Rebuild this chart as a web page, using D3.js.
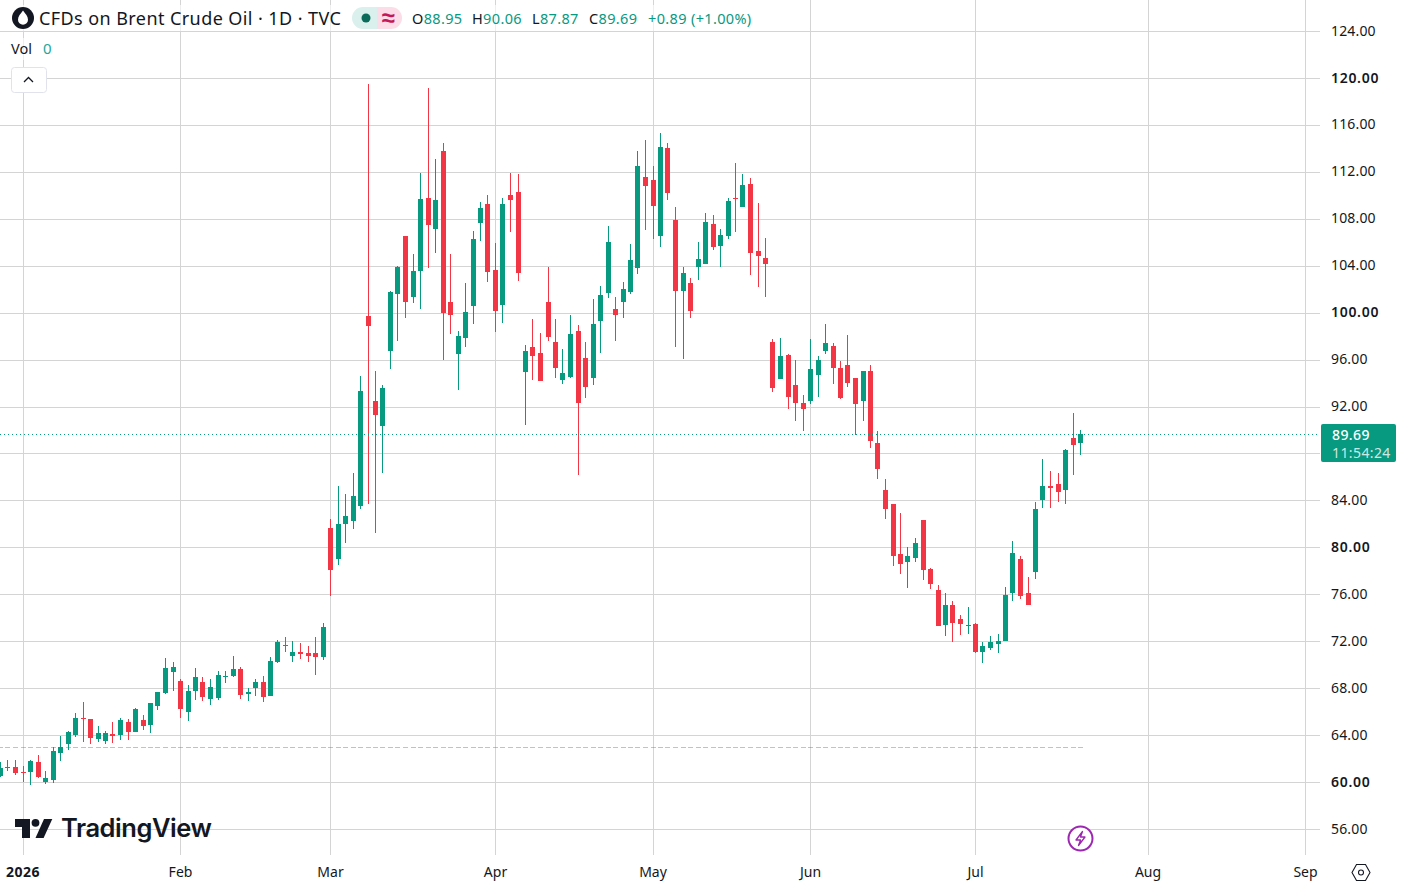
<!DOCTYPE html>
<html>

<head>
  <meta charset="utf-8">
  <script src="https://d3js.org/d3.v7.min.js"></script>
  <style>
    body { margin: 0; background: #fff; }
    text { font-family: "Noto Sans", sans-serif; fill: #131722; }
  </style>
</head>

<body>
  <svg id="chart" width="1402" height="887"></svg>
  <script>

    // daily bars, first bar is three sessions before the 2026 tick
    const firstBar = -3;

    const opens = [
      60.54, 61.25, 61.30, 60.88, 60.88, 61.73, 60.03, 60.20, 62.50, 63.26,
      64.03, 65.47, 65.39, 63.69, 63.52, 64.11, 64.03, 65.13, 64.28, 65.30,
      64.88, 66.50, 67.60, 69.39, 68.62, 65.99, 67.77, 68.54, 67.09, 67.18,
      68.96, 69.05, 69.65, 67.52, 68.03, 68.54, 67.35, 70.24, 71.69, 70.75,
      71.09, 71.00, 71.00, 70.67, 81.65, 79.01, 81.99, 82.24, 83.52, 99.77,
      92.54, 90.41, 96.79, 101.65, 106.58, 101.39, 103.60, 109.82, 107.18, 113.82,
      100.96, 96.54, 97.90, 100.62, 107.69, 109.30, 103.69, 100.71, 110.07, 110.33,
      95.01, 97.13, 96.62, 100.96, 97.56, 94.33, 94.58, 98.50, 96.20, 94.50,
      99.35, 101.73, 100.37, 100.96, 101.82, 103.86, 111.60, 111.35, 106.58, 114.07,
      107.94, 101.90, 102.58, 103.94, 104.20, 107.60, 105.73, 106.58, 109.82, 109.05,
      111.01, 105.30, 104.71, 97.56, 94.41, 96.45, 93.90, 92.37, 92.54, 94.75,
      96.79, 97.22, 95.35, 95.60, 94.50, 92.54, 95.09, 88.96, 84.96, 83.77,
      79.43, 78.75, 79.09, 82.33, 78.16, 76.37, 73.39, 75.09, 73.90, 73.33,
      73.48, 71.09, 71.43, 71.77, 72.03, 76.11, 79.01, 76.11, 77.90, 84.03,
      85.30, 85.39, 84.96, 89.39, 88.95
    ];

    const highs = [
      61.76, 61.90, 61.90, 61.39, 61.90, 62.33, 60.96, 63.00, 63.94, 64.37,
      65.90, 66.84, 65.39, 64.79, 64.37, 65.13, 65.47, 65.39, 66.33, 65.73,
      66.75, 67.69, 70.58, 70.24, 68.79, 68.28, 69.73, 68.96, 68.79, 69.48,
      69.48, 70.75, 69.82, 68.03, 68.79, 69.05, 70.67, 72.11, 72.37, 72.03,
      71.86, 71.60, 72.37, 73.56, 82.41, 85.22, 84.54, 86.33, 94.67, 119.48,
      95.09, 93.90, 101.90, 104.03, 106.58, 105.05, 111.94, 119.18, 113.13, 114.50,
      105.05, 98.50, 102.58, 107.01, 109.48, 110.07, 105.99, 109.82, 111.94, 111.86,
      97.30, 99.50, 98.33, 103.89, 99.52, 96.96, 99.86, 99.01, 97.56, 101.22,
      102.33, 107.43, 101.39, 102.67, 105.90, 113.82, 114.75, 112.54, 115.35, 114.50,
      109.05, 103.94, 103.00, 106.07, 108.54, 108.37, 107.18, 109.82, 112.79, 111.86,
      111.52, 109.39, 106.41, 97.82, 97.90, 96.54, 96.03, 93.05, 97.82, 96.37,
      99.09, 97.48, 95.94, 98.16, 94.50, 95.09, 95.60, 89.99, 85.90, 83.77,
      82.92, 80.03, 80.79, 82.33, 78.24, 76.79, 76.11, 75.43, 74.24, 74.92,
      73.56, 71.94, 72.45, 72.62, 76.62, 80.54, 79.26, 77.48, 83.86, 87.60,
      86.58, 86.33, 88.45, 91.52, 90.06
    ];

    const lows = [
      60.45, 60.99, 60.62, 60.03, 59.77, 60.37, 59.86, 59.94, 61.82, 62.75,
      63.86, 63.43, 63.26, 63.43, 63.26, 63.35, 63.60, 63.60, 64.28, 64.45,
      64.20, 66.16, 67.52, 67.77, 65.47, 65.22, 67.01, 66.92, 66.58, 67.01,
      68.45, 68.96, 67.09, 66.92, 67.35, 66.84, 67.35, 70.16, 71.09, 70.24,
      70.50, 70.24, 69.13, 70.41, 75.86, 78.50, 80.37, 81.56, 83.26, 83.77,
      81.22, 86.33, 95.26, 97.65, 99.60, 100.88, 100.37, 103.86, 105.13, 96.03,
      98.24, 93.48, 97.13, 99.09, 106.16, 102.67, 98.41, 99.18, 106.92, 102.75,
      90.50, 94.33, 94.24, 97.65, 94.50, 93.99, 94.50, 86.16, 92.79, 93.90,
      96.62, 101.30, 97.65, 99.60, 101.65, 103.35, 107.09, 106.33, 105.65, 109.65,
      97.07, 96.05, 99.55, 102.84, 104.20, 105.39, 103.94, 106.33, 106.92, 109.05,
      103.26, 102.24, 101.39, 93.30, 94.41, 91.86, 90.84, 89.99, 92.28, 92.88,
      96.54, 93.99, 92.71, 93.73, 89.65, 90.84, 88.54, 85.90, 82.41, 78.41,
      77.73, 76.54, 78.75, 77.22, 76.45, 73.30, 72.45, 71.94, 72.54, 72.62,
      71.01, 70.16, 71.26, 71.01, 72.03, 75.43, 75.60, 75.09, 77.30, 83.43,
      83.43, 83.94, 83.77, 86.16, 87.87
    ];

    const closes = [
      61.19, 61.32, 60.79, 60.82, 61.82, 60.45, 60.37, 62.67, 63.00, 64.28,
      65.47, 65.39, 63.77, 64.20, 64.20, 63.94, 65.30, 64.28, 66.24, 64.79,
      66.75, 67.69, 69.73, 69.82, 66.24, 67.77, 68.96, 67.26, 68.11, 69.13,
      69.05, 69.65, 67.43, 67.69, 68.54, 67.26, 70.33, 71.94, 71.60, 71.09,
      70.92, 70.75, 70.67, 73.22, 78.07, 81.99, 82.67, 84.37, 93.39, 98.92,
      91.35, 93.65, 101.82, 103.94, 100.96, 103.60, 109.73, 107.52, 109.65, 100.03,
      99.86, 98.07, 100.11, 106.33, 108.96, 103.52, 100.20, 109.30, 109.65, 103.43,
      96.79, 96.37, 94.24, 97.99, 95.35, 94.92, 98.24, 92.37, 93.73, 99.09,
      101.56, 106.07, 99.86, 102.07, 104.54, 112.54, 110.84, 109.13, 114.16, 110.24,
      101.90, 103.43, 100.20, 104.62, 107.77, 105.65, 106.67, 109.56, 109.76, 110.92,
      105.13, 104.88, 104.20, 93.65, 96.37, 92.88, 92.37, 91.86, 95.26, 96.03,
      97.48, 95.35, 92.79, 94.07, 92.28, 95.09, 89.13, 86.75, 83.26, 79.26,
      78.58, 79.26, 80.37, 78.07, 76.88, 73.30, 75.09, 73.56, 73.48, 73.39,
      71.09, 71.60, 71.94, 72.03, 75.94, 79.52, 75.86, 75.09, 83.26, 85.22,
      85.05, 84.79, 88.37, 88.79, 89.69
    ];

    const priceTicks = [56, 60, 64, 68, 72, 76, 80, 84, 88, 92, 96, 100, 104, 108, 112, 116, 120, 124];
    const boldPrices = [60, 80, 100, 120];
    const hiddenPrices = [88]; // covered by the last price tag

    const monthBars = [0, 21, 41, 63, 84, 105, 127, 150, 171];
    const monthLabels = ["2026", "Feb", "Mar", "Apr", "May", "Jun", "Jul", "Aug", "Sep"];

    const legendOHLC = [["O", "88.95"], ["H", "90.06"], ["L", "87.87"], ["C", "89.69"]];
    const legendChange = "+0.89 (+1.00%)";
    const lastPrice = 89.69;
    const countdown = "11:54:24";

    const green = "#089981";
    const red = "#F23645";
    const gridColor = "#d4d4d4";

    const svg = d3.select("#chart");
    const plotRight = 1320;
    const plotBottom = 855;

    const x = d3.scaleLinear().domain([0, 171]).range([23, 1305.5]);
    const y = d3.scaleLinear().domain([56, 124]).range([829, 31]);

    const bars = opens.map((o, i) => ({
      bar: firstBar + i, o: o, h: highs[i], l: lows[i], c: closes[i]
    }));
    const colorOf = d => d.c >= d.o ? green : red;
    const left = d => Math.floor(x(d.bar));
    const py = v => Math.round(y(v) + 0.4); // same pixel row as the grid lines

    // grid
    const gridY = svg.append("g")
      .attr("transform", "translate(" + plotRight + ",0)")
      .call(d3.axisLeft(y).tickValues(priceTicks).tickSize(plotRight).tickFormat(""));
    const gridX = svg.append("g")
      .attr("transform", "translate(0," + plotBottom + ")")
      .call(d3.axisTop(x).tickValues(monthBars).tickSize(plotBottom).tickFormat(""));
    gridX.selectAll(".tick").attr("transform", d => "translate(" + (Math.floor(x(d)) + 0.5) + ",0)");
    gridX.selectAll("line").attr("x1", 0).attr("x2", 0);
    [gridY, gridX].forEach(g => {
      g.select(".domain").remove();
      g.selectAll("line").attr("stroke", gridColor).attr("shape-rendering", "crispEdges");
    });

    // zero height volume bars, they show up as a dashed row
    svg.append("g").selectAll("rect").data(bars).join("rect")
      .attr("x", d => left(d) - 2)
      .attr("y", 747)
      .attr("width", 5)
      .attr("height", 1)
      .attr("fill", colorOf)
      .attr("opacity", 0.42);

    // wicks and bodies
    const candles = svg.append("g").attr("shape-rendering", "crispEdges");
    candles.selectAll(".wick").data(bars).join("rect")
      .attr("class", "wick")
      .attr("x", left)
      .attr("y", d => py(d.h))
      .attr("width", 1)
      .attr("height", d => Math.max(1, py(d.l) - py(d.h)))
      .attr("fill", colorOf);
    candles.selectAll(".body").data(bars).join("rect")
      .attr("class", "body")
      .attr("x", d => left(d) - 2)
      .attr("y", d => py(Math.max(d.o, d.c)))
      .attr("width", 5)
      .attr("height", d => Math.max(1, py(Math.min(d.o, d.c)) - py(Math.max(d.o, d.c))))
      .attr("fill", colorOf);

    // last price line
    const lastY = Math.round(y(lastPrice));
    svg.append("line")
      .attr("x1", 0).attr("x2", plotRight)
      .attr("y1", lastY + 0.5).attr("y2", lastY + 0.5)
      .attr("stroke", green)
      .attr("stroke-dasharray", "1 3");

    // price axis
    const axisY = svg.append("g")
      .attr("transform", "translate(" + plotRight + ",-0.4)")
      .call(d3.axisRight(y).tickValues(priceTicks.filter(p => !hiddenPrices.includes(p)))
        .tickSize(0).tickPadding(11).tickFormat(d3.format(".2f")));
    axisY.select(".domain").remove();
    axisY.selectAll("text")
      .style("font-family", '"Noto Sans", sans-serif')
      .style("font-size", "14px")
      .style("letter-spacing", d => boldPrices.includes(d) ? "0.7px" : "0.15px")
      .style("font-weight", d => boldPrices.includes(d) ? 600 : 400)
      .attr("fill", "#131722");

    // time axis
    const axisX = svg.append("g")
      .attr("transform", "translate(-0.5,867)")
      .call(d3.axisBottom(x).tickValues(monthBars).tickSize(0).tickPadding(0)
        .tickFormat((d, i) => monthLabels[i]));
    axisX.select(".domain").remove();
    axisX.selectAll("text")
      .style("font-family", '"Noto Sans", sans-serif')
      .style("font-size", "14px")
      .style("letter-spacing", d => d === 0 ? "0.5px" : "0")
      .style("font-weight", d => d === 0 ? 700 : 400)
      .attr("fill", "#131722");

    // last price tag
    svg.append("rect").attr("x", 1321).attr("y", 424).attr("width", 75).attr("height", 38)
      .attr("rx", 2).attr("fill", green);
    svg.append("text").attr("x", 1332).attr("y", 440).text(d3.format(".2f")(lastPrice))
      .style("fill", "#fff").style("font-size", "14px").style("font-weight", 500).style("letter-spacing", "0.4px");
    svg.append("text").attr("x", 1332).attr("y", 458).text(countdown)
      .style("fill", "#fff").style("fill-opacity", 0.8).style("font-size", "14px").style("letter-spacing", "0.4px");

    // legend
    svg.append("rect").attr("x", 6).attr("y", 5).attr("width", 756).attr("height", 26)
      .attr("fill", "#fff").attr("opacity", 0.6);
    svg.append("rect").attr("x", 6).attr("y", 38).attr("width", 46).attr("height", 22)
      .attr("fill", "#fff").attr("opacity", 0.6);
    svg.append("circle").attr("cx", 23).attr("cy", 18).attr("r", 11).attr("fill", "#131722");
    svg.append("path")
      .attr("d", "M23 10.5 C25.5 14 28 16.2 28 19.8 A5 5 0 0 1 18 19.8 C18 16.2 20.5 14 23 10.5 Z")
      .attr("fill", "#fff");
    svg.append("text").attr("x", 39).attr("y", 25).text("CFDs on Brent Crude Oil · 1D · TVC")
      .style("font-size", "18px").style("letter-spacing", "0.42px");

    // market status pill
    svg.append("path").attr("d", "M377 7 H363 A11 11 0 0 0 363 29 H377 Z").attr("fill", "#daf0ec");
    svg.append("path").attr("d", "M377 7 H391 A11 11 0 0 1 391 29 H377 Z").attr("fill", "#fcdde7");
    svg.append("circle").attr("cx", 366).attr("cy", 18).attr("r", 4.5).attr("fill", "#0b6b5b");
    svg.append("text").attr("x", 388).attr("y", 25.5).attr("text-anchor", "middle").text("≈")
      .style("fill", "#c2185b").style("font-size", "24px").style("font-weight", 600);

    // OHLC values
    const ohlcX = [412, 472, 532, 589];
    legendOHLC.forEach((pair, i) => {
      const t = svg.append("text").attr("x", ohlcX[i]).attr("y", 24)
        .style("font-size", "14.5px").style("letter-spacing", "0.35px");
      t.append("tspan").text(pair[0]);
      t.append("tspan").text(pair[1]).style("fill", green);
    });
    svg.append("text").attr("x", 648).attr("y", 24).text(legendChange)
      .style("fill", green).style("font-size", "14.5px").style("letter-spacing", "0.35px");

    svg.append("text").attr("x", 11).attr("y", 54).text("Vol").style("font-size", "14.5px");
    svg.append("text").attr("x", 43).attr("y", 54).text("0").style("fill", "#26a69a").style("font-size", "15px");

    // collapse button
    svg.append("rect").attr("x", 11.5).attr("y", 67.5).attr("width", 35).attr("height", 25)
      .attr("rx", 3).attr("fill", "#fff").attr("stroke", "#e0e3eb");
    svg.append("path").attr("d", "M24 82 L28.5 77.5 L33 82")
      .attr("fill", "none").attr("stroke", "#131722").attr("stroke-width", 1.3);

    // logo
    const logo = svg.append("g").attr("fill", "#131722");
    logo.append("path").attr("d", "M15 819 H30 V838 H22 V827 H15 Z");
    logo.append("circle").attr("cx", 35.5).attr("cy", 822.8).attr("r", 3.9);
    logo.append("path").attr("d", "M44 819 H52.3 L43.6 838 H35.5 Z");
    svg.append("text").attr("x", 61).attr("y", 837).text("TradingView")
      .style("font-family", "Inter, sans-serif").style("font-size", "25.5px").style("font-weight", 600)
      .style("letter-spacing", "-0.45px");

    // lightning badge
    svg.append("circle").attr("cx", 1080.5).attr("cy", 838.5).attr("r", 12)
      .attr("fill", "#fff").attr("stroke", "#9c27b0").attr("stroke-width", 2);
    svg.append("path").attr("d", "M1082.5 831.5 L1076 840 H1080.5 L1078.5 845.5 L1085 837 H1080.5 Z")
      .attr("fill", "none").attr("stroke", "#9c27b0").attr("stroke-width", 1.3).attr("stroke-linejoin", "round");

    // settings icon
    svg.append("path").attr("d", "M1356.5 864.5 H1365.5 L1370 872.5 L1365.5 880.5 H1356.5 L1352 872.5 Z")
      .attr("fill", "none").attr("stroke", "#131722").attr("stroke-width", 1.1);
    svg.append("circle").attr("cx", 1361).attr("cy", 872.5).attr("r", 2.5)
      .attr("fill", "none").attr("stroke", "#131722").attr("stroke-width", 1.1);

  </script>
</body>

</html>
